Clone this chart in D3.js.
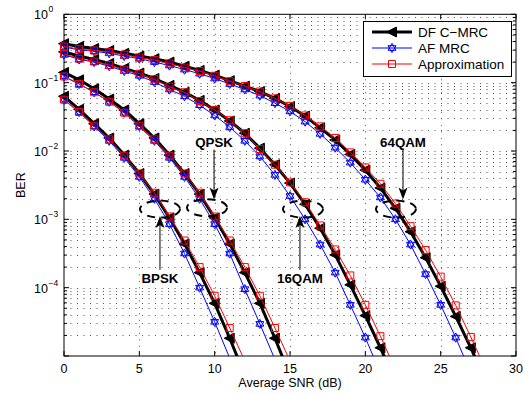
<!DOCTYPE html>
<html>
<head>
<meta charset="utf-8">
<script src="https://cdn.jsdelivr.net/npm/d3@7"></script>
<style>
  body { margin: 0; background: #fff; }
  svg { font-family: "Liberation Sans", Arial, Helvetica, sans-serif; }
</style>
</head>
<body>
<div id="chart"></div>
<script>
// SNR grid (dB) shared by all curves
const snrDb = [0, 1, 2, 3, 4, 5, 6, 7, 8, 9, 10, 11, 12, 13, 14, 15, 16, 17, 18, 19, 20,
  21, 22, 23, 24, 25, 26, 27, 28, 29, 30];

// BER, one array per modulation and scheme
const bpskDF = [0.0631, 0.0407, 0.0251, 0.0155, 0.0087, 0.00468, 0.00234, 0.00105, 0.000437, 0.000166, 5.9e-5, 1.82e-5, 5.2e-6];
const bpskAF = [0.0562, 0.0372, 0.0229, 0.0141, 0.00794, 0.00417, 0.0020, 0.000851, 0.000316, 1.0e-4, 3.16e-5, 9.3e-6];
const bpskApprox = [0.0562, 0.0372, 0.0234, 0.0148, 0.00851, 0.00468, 0.00245, 0.0011, 0.00049, 0.0002, 7.6e-5, 2.57e-5, 8.5e-6];

const qpskDF = [0.141, 0.110, 0.0813, 0.0575, 0.0398, 0.0251, 0.0155, 0.0087, 0.00468, 0.00234, 0.00105, 0.000437, 0.000166, 5.9e-5, 1.82e-5, 5.2e-6];
const qpskAF = [0.123, 0.0955, 0.0724, 0.0525, 0.0363, 0.0229, 0.0141, 0.00794, 0.00417, 0.0020, 0.000851, 0.000316, 9.5e-5, 2.95e-5, 8.9e-6];
const qpskApprox = [0.123, 0.0955, 0.0724, 0.0525, 0.0363, 0.0234, 0.0148, 0.00851, 0.00468, 0.00245, 0.0011, 0.00049, 0.0002, 7.6e-5, 2.57e-5, 8.5e-6];

const qam16DF = [0.282, 0.245, 0.219, 0.191, 0.162, 0.138, 0.115, 0.0912, 0.0724, 0.0550, 0.0398, 0.0275, 0.0182, 0.011, 0.0063, 0.00339, 0.00166, 0.00074, 0.000302, 0.00011, 3.9e-5, 1.32e-5, 4.2e-6];
const qam16AF = [0.257, 0.219, 0.200, 0.174, 0.148, 0.126, 0.102, 0.0794, 0.0631, 0.0468, 0.0331, 0.0224, 0.0141, 0.00832, 0.00447, 0.00219, 0.001, 0.000427, 0.000166, 5.6e-5, 1.86e-5, 5.6e-6];
const qam16Approx = [0.263, 0.224, 0.204, 0.182, 0.155, 0.135, 0.112, 0.0871, 0.0724, 0.0537, 0.0398, 0.0282, 0.0182, 0.0107, 0.0063, 0.00347, 0.00178, 0.000813, 0.000363, 0.000151, 5.6e-5, 1.95e-5, 6.3e-6];

const qam64DF = [0.372, 0.339, 0.316, 0.295, 0.269, 0.245, 0.224, 0.200, 0.174, 0.151, 0.129, 0.107, 0.0891, 0.0741, 0.0589, 0.0447, 0.0324, 0.0219, 0.0145, 0.00891, 0.00525, 0.00288, 0.00145, 0.00066, 0.000275, 0.000105, 3.8e-5, 1.32e-5, 4.2e-6];
const qam64AF = [0.331, 0.302, 0.288, 0.269, 0.245, 0.224, 0.200, 0.178, 0.155, 0.135, 0.115, 0.0955, 0.0794, 0.0646, 0.0501, 0.038, 0.0269, 0.0178, 0.0112, 0.00676, 0.0038, 0.00209, 0.001, 0.000427, 0.000158, 5.6e-5, 1.86e-5, 5.6e-6];
const qam64Approx = [0.339, 0.309, 0.295, 0.282, 0.257, 0.234, 0.214, 0.191, 0.166, 0.148, 0.126, 0.105, 0.0891, 0.0741, 0.0589, 0.0457, 0.0331, 0.0229, 0.0155, 0.00955, 0.00575, 0.00331, 0.0017, 0.000794, 0.000355, 0.000145, 5.5e-5, 1.9e-5, 6.3e-6];

const schemeNames = ['DF C\u2212MRC', 'AF MRC', 'Approximation'];
const xTicks = [0, 5, 10, 15, 20, 25, 30];
const yDecades = [1, 1e-1, 1e-2, 1e-3, 1e-4, 1e-5];
const yTickExp = ['0', '\u22121', '\u22122', '\u22123', '\u22124'];

// labels with ellipse centre, arrow and text anchor in data units (dB, BER)
const modLabels = ['BPSK', 'QPSK', '16QAM', '64QAM'];
const ellipseAt = [[6.37, 1.41e-3], [9.49, 1.48e-3], [15.86, 1.41e-3], [22.03, 1.41e-3]];
const arrowX = [6.37, 9.96, 15.66, 22.5];
const arrowFrom = [1.82e-4, 1.05e-2, 1.82e-4, 1.05e-2];
const arrowTo = [1.12e-3, 1.95e-3, 1.12e-3, 1.95e-3];
const labelAt = [1.17e-4, 1.15e-2, 1.17e-4, 1.15e-2];

const W = 523, H = 394;
const margin = { top: 14.3, right: 7, bottom: 38, left: 64 };
const width = W - margin.left - margin.right;
const height = H - margin.top - margin.bottom;

const svg = d3.select('#chart').append('svg')
  .attr('width', W).attr('height', H)
  .style('background', '#fff');

const x = d3.scaleLinear().domain([0, 30]).range([margin.left, margin.left + width]);
const y = d3.scaleLog().domain([1e-5, 1]).range([margin.top + height, margin.top]);

svg.append('defs').append('clipPath').attr('id', 'plot-clip')
  .append('rect')
  .attr('x', x(0)).attr('y', y(1))
  .attr('width', x(30) - x(0)).attr('height', y(1e-5) - y(1));

// grid: x at major ticks, y at every log tick
const minorY = [];
yDecades.slice(1).forEach(d => { for (let k = 1; k <= 9; k++) minorY.push(d * k); });

const grid = svg.append('g').attr('stroke', '#555').attr('stroke-width', 1)
  .attr('stroke-dasharray', '1,5.5');
grid.selectAll('.gy').data(minorY.filter(v => v > 1e-5 && v < 1)).enter().append('line')
  .attr('x1', x(0)).attr('x2', x(30))
  .attr('y1', d => Math.round(y(d)) + 0.5).attr('y2', d => Math.round(y(d)) + 0.5);
grid.selectAll('.gx').data(xTicks.slice(1, -1)).enter().append('line')
  .attr('x1', d => Math.round(x(d)) + 0.5).attr('x2', d => Math.round(x(d)) + 0.5)
  .attr('y1', y(1)).attr('y2', y(1e-5));

// axes box with inward ticks
const axes = svg.append('g').attr('stroke', '#000').attr('stroke-width', 1);
axes.append('rect')
  .attr('x', x(0)).attr('y', y(1))
  .attr('width', x(30) - x(0)).attr('height', y(1e-5) - y(1))
  .attr('fill', 'none');
xTicks.forEach(t => {
  axes.append('line').attr('x1', x(t)).attr('x2', x(t)).attr('y1', y(1e-5)).attr('y2', y(1e-5) - 5);
  axes.append('line').attr('x1', x(t)).attr('x2', x(t)).attr('y1', y(1)).attr('y2', y(1) + 5);
});
minorY.concat([1]).forEach(v => {
  const major = Math.abs(Math.log10(v) - Math.round(Math.log10(v))) < 1e-9;
  const len = major ? 5 : 3;
  axes.append('line').attr('x1', x(0)).attr('x2', x(0) + len).attr('y1', y(v)).attr('y2', y(v));
  axes.append('line').attr('x1', x(30)).attr('x2', x(30) - len).attr('y1', y(v)).attr('y2', y(v));
});

// tick labels
svg.append('g').selectAll('text').data(xTicks).enter().append('text')
  .attr('x', d => x(d)).attr('y', y(1e-5) + 17)
  .attr('text-anchor', 'middle').attr('font-size', 12.5)
  .text(d => d);

yDecades.slice(0, 5).forEach((v, i) => {
  const g = svg.append('g');
  g.append('text').attr('x', 48).attr('y', y(v) + 5)
    .attr('text-anchor', 'end').attr('font-size', 12.5).text('10');
  g.append('text').attr('x', 48.5).attr('y', y(v) - 2)
    .attr('font-size', 8.5).text(yTickExp[i]);
});

svg.append('text')
  .attr('x', x(15)).attr('y', 387)
  .attr('text-anchor', 'middle').attr('font-size', 12.5)
  .text('Average SNR (dB)');
svg.append('text')
  .attr('transform', `translate(25,${(y(1) + y(1e-5)) / 2}) rotate(-90)`)
  .attr('text-anchor', 'middle').attr('font-size', 12.5)
  .text('BER');

// marker shapes
const triLeft = 'M-5.5,0L4.5,-5L4.5,5Z';
const hexagram = (() => {
  const r = 4.6, c = Math.cos(Math.PI / 6) * r, s = r / 2;
  return `M0,${-r}L${c},${s}L${-c},${s}Z M0,${r}L${c},${-s}L${-c},${-s}Z`;
})();
const square = 'M-3.5,-3.5H3.5V3.5H-3.5Z';

const schemes = [
  { name: schemeNames[0], data: [bpskDF, qpskDF, qam16DF, qam64DF], color: '#000', lw: 3, marker: triLeft, fill: '#000' },
  { name: schemeNames[1], data: [bpskAF, qpskAF, qam16AF, qam64AF], color: '#0000ff', lw: 1, marker: hexagram, fill: 'none' },
  { name: schemeNames[2], data: [bpskApprox, qpskApprox, qam16Approx, qam64Approx], color: '#ff0000', lw: 1, marker: square, fill: 'none' }
];

const line = d3.line().x(d => x(d[0])).y(d => y(d[1]));
const plot = svg.append('g');

schemes.forEach(s => {
  s.data.forEach(series => {
    const pts = series.map((v, i) => [snrDb[i], v]);
    plot.append('path')
      .attr('clip-path', 'url(#plot-clip)')
      .attr('d', line(pts))
      .attr('fill', 'none').attr('stroke', s.color).attr('stroke-width', s.lw)
      .attr('stroke-linejoin', 'round');
    plot.selectAll(null).data(pts.filter(p => p[1] >= 1e-5)).enter().append('path')
      .attr('transform', p => `translate(${x(p[0])},${y(p[1])})`)
      .attr('d', s.marker)
      .attr('fill', s.fill).attr('stroke', s.color).attr('stroke-width', 1);
  });
});

// dashed ellipses, arrows and modulation labels
const ann = svg.append('g');
modLabels.forEach((lab, i) => {
  ann.append('ellipse')
    .attr('cx', x(ellipseAt[i][0])).attr('cy', y(ellipseAt[i][1]))
    .attr('rx', 20).attr('ry', 8.5)
    .attr('fill', 'none').attr('stroke', '#000').attr('stroke-width', 2)
    .attr('stroke-dasharray', '8,6');
  const ax = x(arrowX[i]), y0 = y(arrowFrom[i]), y1 = y(arrowTo[i]);
  const dir = y1 < y0 ? 1 : -1; // 1: head points up
  ann.append('line')
    .attr('x1', ax).attr('x2', ax).attr('y1', y0).attr('y2', y1 + dir * 8)
    .attr('stroke', '#000').attr('stroke-width', 1);
  ann.append('path')
    .attr('d', `M${ax},${y1}L${ax - 4.5},${y1 + dir * 12}L${ax},${y1 + dir * 9}L${ax + 4.5},${y1 + dir * 12}Z`)
    .attr('fill', '#000');
  ann.append('text')
    .attr('x', ax).attr('y', y(labelAt[i]))
    .attr('text-anchor', 'middle').attr('font-size', 13.3).attr('font-weight', 'bold')
    .text(lab);
});

// legend
const lg = svg.append('g');
lg.append('rect').attr('x', 363.5).attr('y', 21.5).attr('width', 148).attr('height', 55)
  .attr('fill', '#fff').attr('stroke', '#000').attr('stroke-width', 1);
const legendY = [32, 48, 64];
schemes.forEach((s, i) => {
  lg.append('line').attr('x1', 372).attr('x2', 412).attr('y1', legendY[i]).attr('y2', legendY[i])
    .attr('stroke', s.color).attr('stroke-width', s.lw);
  lg.append('path').attr('transform', `translate(392,${legendY[i]})`)
    .attr('d', s.marker).attr('fill', s.fill).attr('stroke', s.color).attr('stroke-width', 1);
  lg.append('text').attr('x', 418).attr('y', legendY[i] + 5)
    .attr('font-size', 13.5).text(s.name);
});
</script>
</body>
</html>
